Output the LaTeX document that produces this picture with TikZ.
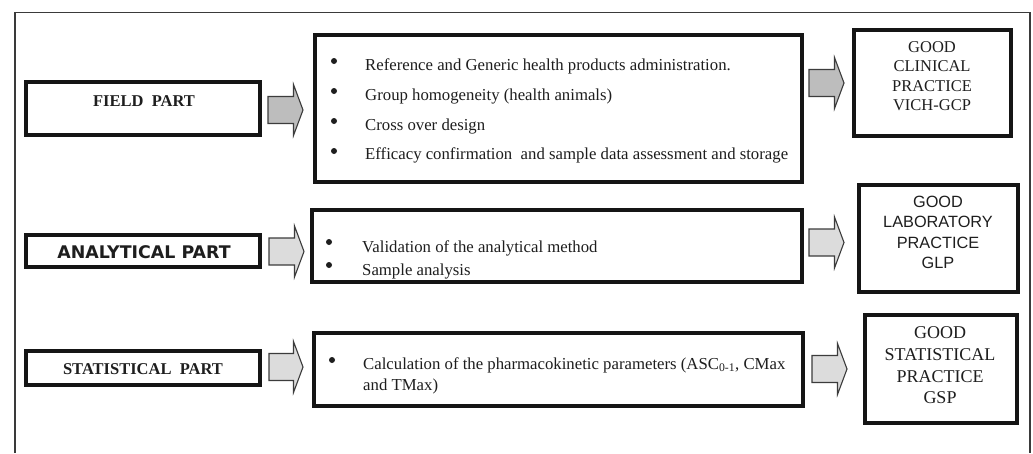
\documentclass[tikz,border=0pt]{standalone}
\usepackage{fontspec}
\setmainfont{Liberation Serif}
\newfontfamily\sansf{Liberation Sans}
\newfontfamily\boldsansf{DejaVu Sans}
\usetikzlibrary{calc}
\definecolor{ink}{HTML}{1E1E1E}
\definecolor{edge}{HTML}{151515}
\definecolor{arrA}{HTML}{BDBDBD}
\definecolor{arrB}{HTML}{DCDCDC}
\definecolor{arrline}{HTML}{3C3C3C}
\definecolor{frame}{HTML}{3A3A3A}
\tikzset{
  thickbox/.style={draw=edge, line width=4pt, fill=white, inner sep=0pt},
  arrowshape/.style={draw=arrline, line width=1.1pt, line join=miter},
  listtxt/.style={anchor=base west, inner sep=0pt, text=ink, font=\fontsize{16.75}{21}\selectfont},
  bullet/.style={fill=ink},
  parttxt/.style={inner sep=0pt, text=ink, font=\fontsize{16.5}{20}\selectfont\bfseries},
  goodtxt/.style={inner sep=0pt, text=ink, align=center},
}
\newcommand\blockarrow[6]{%
  \draw[arrowshape, fill=#6] let \p1=(#1.east), \p2=(#2.west), \p3=(0,#5) in
    (\x1+#3pt,\y3+13.5pt) -- (\x2-#4pt-9.5pt,\y3+13.5pt) -- (\x2-#4pt-9.5pt,\y3+25.5pt)
    -- (\x2-#4pt,\y3) -- (\x2-#4pt-9.5pt,\y3-25.5pt) -- (\x2-#4pt-9.5pt,\y3-13.5pt)
    -- (\x1+#3pt,\y3-13.5pt) -- cycle;}
\begin{document}
\begin{tikzpicture}[x=1pt,y=-1pt]
\useasboundingbox[fill=white] (0,0) rectangle (1033,453);
% outer frame (open at the bottom)
\draw[frame, line width=1.5pt] (15,453) -- (15,12.5) -- (1030,12.5) -- (1030,453);

% boxes
\node[thickbox, minimum width=234, minimum height=53] (field) at (143,108.5) {};
\node[thickbox, minimum width=487, minimum height=147] (fieldlist) at (558.5,108.5) {};
\node[thickbox, minimum width=157, minimum height=106] (gcp) at (932.5,83) {};

\node[thickbox, minimum width=234, minimum height=32] (anal) at (143,251) {};
\node[thickbox, minimum width=490, minimum height=72] (anallist) at (557,246) {};
\node[thickbox, minimum width=159, minimum height=107] (glp) at (938.5,238.5) {};

\node[thickbox, minimum width=234, minimum height=34] (stat) at (143,368) {};
\node[thickbox, minimum width=489, minimum height=73] (statlist) at (558.5,369.5) {};
\node[thickbox, minimum width=152, minimum height=108] (gsp) at (941,369) {};

% part labels
\node[parttxt] (fieldt) at (144,101) {FIELD\ \ PART};
\node[inner sep=0pt, text=ink, font=\boldsansf\fontsize{17.4}{20}\selectfont\bfseries] (analt) at (144,252) {ANALYTICAL PART};
\node[parttxt] (statt) at (143,369) {STATISTICAL\ \ PART};

% field list
\fill[bullet] (334,61) circle (3);
\fill[bullet] (334,91) circle (3);
\fill[bullet] (334,121) circle (3);
\fill[bullet] (334,151) circle (3);
\node[listtxt] (f1) at (365,70) {Reference and Generic health products administration.};
\node[listtxt] (f2) at (365,100) {Group homogeneity (health animals)};
\node[listtxt] (f3) at (365,130) {Cross over design};
\node[listtxt] (f4) at (365,159) {Efficacy confirmation\ \ and sample data assessment and storage};

% analytical list
\fill[bullet] (329,242) circle (3);
\fill[bullet] (329,265) circle (3);
\node[listtxt] (a1) at (362,252) {Validation of the analytical method};
\node[listtxt] (a2) at (362,275) {Sample analysis};

% statistical list
\fill[bullet] (332,360) circle (3);
\node[listtxt, anchor=north west, align=left] (s1) at (363,357)
  {Calculation of the pharmacokinetic parameters (ASC\textsubscript{0-1}, CMax\\and TMax)};

% good practice labels
\node[goodtxt, font=\fontsize{16.5}{19.4}\selectfont] (gcpt) at (932,76) {GOOD\\CLINICAL\\PRACTICE\\VICH-GCP};
\node[goodtxt, font=\sansf\fontsize{16.3}{20.3}\selectfont] (glpt) at (938,232.5) {GOOD\\LABORATORY\\PRACTICE\\GLP};
\node[goodtxt, font=\fontsize{18}{21.7}\selectfont] (gspt) at (940,365.5) {GOOD\\STATISTICAL\\PRACTICE\\GSP};

% block arrows
\blockarrow{field}{fieldlist}{6}{10}{110}{arrA}
\blockarrow{fieldlist}{gcp}{5}{8}{83}{arrA}
\blockarrow{anal}{anallist}{7}{6}{251.5}{arrB}
\blockarrow{anallist}{glp}{5}{13}{242.5}{arrB}
\blockarrow{stat}{statlist}{7}{9}{367}{arrB}
\blockarrow{statlist}{gsp}{7}{16}{369}{arrB}
\end{tikzpicture}
\end{document}
